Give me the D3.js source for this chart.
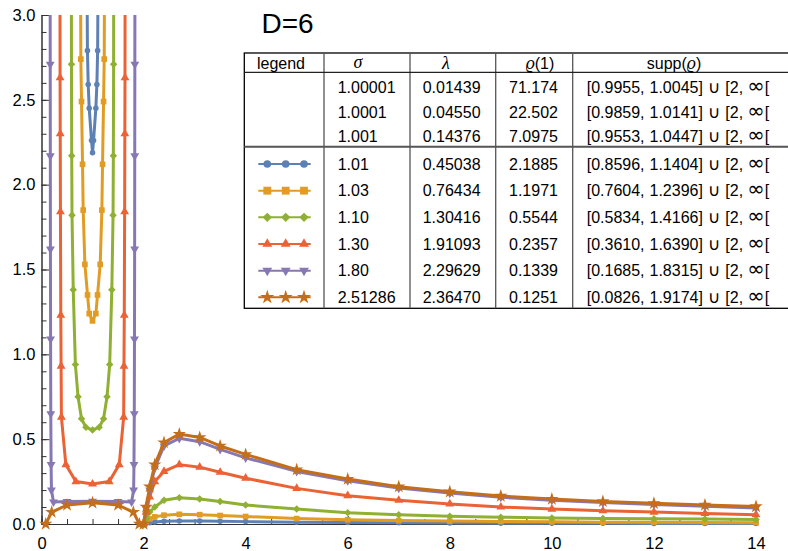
<!DOCTYPE html>
<html>
<head>
<meta charset="utf-8">
<script src="https://cdn.jsdelivr.net/npm/d3@7"></script>
<style>
	body { margin: 0; background: #fff; }
	svg { display: block; font-family: "Liberation Sans", Arial, Helvetica, sans-serif; }
	.axis text { font-size: 16.5px; fill: #000; font-family: "Liberation Sans", Arial, sans-serif; }
	.axis path, .axis line { stroke: #333; }
	.cell { font-size: 16px; fill: #000; }
	.greek { font-family: "Liberation Serif", "Times New Roman", serif; font-style: italic; }
	.math { font-family: "DejaVu Sans", sans-serif; }
</style>
</head>
<body>
<svg id="chart" width="788" height="551"></svg>
<script>
// values

// right branch, x >= 2, same sample points for every sigma
var rightX = [2, 2.05, 2.12, 2.22, 2.4, 2.7, 3.1, 3.5, 4, 5, 6, 7, 8, 9, 10, 11, 12, 13, 14]
var blueRight = [0, 0.004, 0.008, 0.012, 0.016, 0.018, 0.017, 0.016, 0.014, 0.011, 0.009, 0.007, 0.006, 0.005, 0.0045, 0.004, 0.0035, 0.003, 0.003]
var orangeRight = [0, 0.015, 0.03, 0.042, 0.052, 0.057, 0.055, 0.05, 0.044, 0.032, 0.025, 0.02, 0.017, 0.015, 0.013, 0.011, 0.01, 0.009, 0.008]
var greenRight = [0, 0.03, 0.07, 0.1, 0.14, 0.155, 0.147, 0.132, 0.112, 0.088, 0.067, 0.054, 0.045, 0.04, 0.036, 0.033, 0.031, 0.029, 0.027]
var redRight = [0, 0.07, 0.16, 0.25, 0.31, 0.35, 0.335, 0.305, 0.27, 0.21, 0.167, 0.14, 0.118, 0.1, 0.088, 0.078, 0.07, 0.062, 0.055]
var purpleRight = [0, 0.09, 0.2, 0.33, 0.46, 0.505, 0.485, 0.44, 0.39, 0.31, 0.255, 0.212, 0.182, 0.158, 0.14, 0.126, 0.115, 0.105, 0.095]
var starRight = [0, 0.1, 0.22, 0.35, 0.48, 0.53, 0.51, 0.46, 0.41, 0.32, 0.265, 0.22, 0.19, 0.165, 0.147, 0.133, 0.122, 0.112, 0.103]

// left branch, inside the inner support interval
var blueLeftX = [0.885, 0.9, 0.915, 0.935, 0.98, 1.0, 1.02, 1.065, 1.085, 1.1, 1.115]
var blueLeftY = [3.6, 2.79, 2.59, 2.45, 2.26, 2.1885, 2.26, 2.45, 2.59, 2.79, 3.6]
var orangeLeftX = [0.762, 0.771, 0.784, 0.804, 0.817, 0.85, 0.902, 0.935, 1.0, 1.065, 1.098, 1.15, 1.183, 1.196, 1.216, 1.229, 1.238]
var orangeLeftY = [3.5, 2.74, 2.49, 2.12, 1.85, 1.53, 1.35, 1.24, 1.1971, 1.24, 1.35, 1.53, 1.85, 2.12, 2.49, 2.74, 3.5]
var greenLeftX = [0.5845, 0.587, 0.592, 0.598, 0.622, 0.664, 0.716, 0.784, 0.87, 1.0, 1.13, 1.216, 1.284, 1.336, 1.378, 1.402, 1.408, 1.413, 1.4155]
var greenLeftY = [3.4, 2.71, 2.17, 1.82, 1.38, 0.94, 0.75, 0.62, 0.57, 0.5544, 0.57, 0.62, 0.75, 0.94, 1.38, 1.82, 2.17, 2.71, 3.4]
var redLeftX = [0.3615, 0.364, 0.367, 0.371, 0.378, 0.384, 0.39, 0.477, 0.673, 1.0, 1.327, 1.523, 1.61, 1.616, 1.622, 1.629, 1.633, 1.636, 1.6385]
var redLeftY = [3.4, 2.63, 2.3, 1.84, 1.23, 0.93, 0.63, 0.35, 0.25, 0.2357, 0.25, 0.35, 0.63, 0.93, 1.23, 1.84, 2.3, 2.63, 3.4]
var purpleLeftX = [0.169, 0.171, 0.173, 0.175, 0.178, 0.182, 0.188, 0.195, 0.235, 0.5, 1.0, 1.5, 1.765, 1.805, 1.812, 1.818, 1.822, 1.825, 1.827, 1.829, 1.831]
var purpleLeftY = [3.4, 2.71, 2.17, 1.62, 1.09, 0.65, 0.35, 0.2, 0.13, 0.132, 0.1339, 0.132, 0.13, 0.2, 0.35, 0.65, 1.09, 1.62, 2.17, 2.71, 3.4]
var starLeftX = [0.0826, 0.2, 0.5, 1.0, 1.5, 1.8, 1.9174]
var starLeftY = [0, 0.07, 0.112, 0.1251, 0.112, 0.07, 0]

// table
var sigmaLabels = ["1.00001", "1.0001", "1.001", "1.01", "1.03", "1.10", "1.30", "1.80", "2.51286"]
var lambdaLabels = ["0.01439", "0.04550", "0.14376", "0.45038", "0.76434", "1.30416", "1.91093", "2.29629", "2.36470"]
var rhoOneLabels = ["71.174", "22.502", "7.0975", "2.1885", "1.1971", "0.5544", "0.2357", "0.1339", "0.1251"]
var suppLower = ["0.9955", "0.9859", "0.9553", "0.8596", "0.7604", "0.5834", "0.3610", "0.1685", "0.0826"]
var suppUpper = ["1.0045", "1.0141", "1.0447", "1.1404", "1.2396", "1.4166", "1.6390", "1.8315", "1.9174"]

var xMajor = [0, 2, 4, 6, 8, 10, 12, 14]
var yMajor = [0, 0.5, 1, 1.5, 2, 2.5, 3]

var fig = {}

fig.svg = d3.select("#chart")
fig.x = d3.scaleLinear().domain([0, 14]).range([41.5, 756])
fig.y = d3.scaleLinear().domain([0, 3]).range([524, 15])

fig.series = [
	{ color: "#5E81B5", shape: "circle", left: d3.zip(blueLeftX, blueLeftY), right: d3.zip(rightX, blueRight) },
	{ color: "#E19C24", shape: "square", left: d3.zip(orangeLeftX, orangeLeftY), right: d3.zip(rightX, orangeRight) },
	{ color: "#8FB032", shape: "diamond", left: d3.zip(greenLeftX, greenLeftY), right: d3.zip(rightX, greenRight) },
	{ color: "#EB6235", shape: "up", left: d3.zip(redLeftX, redLeftY), right: d3.zip(rightX, redRight) },
	{ color: "#8778B3", shape: "down", left: d3.zip(purpleLeftX, purpleLeftY), right: d3.zip(rightX, purpleRight) },
	{ color: "#C56E1A", shape: "star", left: d3.zip(starLeftX, starLeftY), right: d3.zip(rightX, starRight) }
]

// marker areas: [in the plot, in the legend]
fig.marker = function(shape, big) {
	var k = big ? 1 : 0
	if (shape == "circle") return { d: d3.symbol(d3.symbolCircle, [24, 46][k])(), rot: 0 }
	if (shape == "square") return { d: d3.symbol(d3.symbolSquare, [32, 62][k])(), rot: 0 }
	if (shape == "diamond") return { d: d3.symbol(d3.symbolSquare, [28, 44][k])(), rot: 45 }
	if (shape == "up") return { d: d3.symbol(d3.symbolTriangle, [34, 42][k])(), rot: 0 }
	if (shape == "down") return { d: d3.symbol(d3.symbolTriangle, [34, 42][k])(), rot: 180 }
	return { d: d3.symbol(d3.symbolStar, [55, 62][k])(), rot: 0 }
}

fig.drawAxes = function() {
	var minorY = d3.range(0, 31).map(function(i){ return i/10 })
	var minorX = d3.range(0, 29).map(function(i){ return i/2 })

	var yAxis = fig.svg.append("g")
		.attr("class", "axis")
		.attr("transform", "translate(" + fig.x(0) + ",0)")
	yAxis.append("g")
		.call(d3.axisLeft(fig.y).tickValues(minorY).tickSize(-5).tickSizeOuter(0).tickFormat(""))
	yAxis.append("g")
		.call(d3.axisLeft(fig.y).tickValues(yMajor).tickSize(-8).tickSizeOuter(0).tickPadding(6).tickFormat(d3.format(".1f")))

	var xAxis = fig.svg.append("g")
		.attr("class", "axis")
		.attr("transform", "translate(0," + fig.y(0) + ")")
	xAxis.append("g")
		.call(d3.axisBottom(fig.x).tickValues(minorX).tickSize(-5).tickSizeOuter(0).tickFormat(""))
	xAxis.append("g")
		.call(d3.axisBottom(fig.x).tickValues(xMajor).tickSize(-8).tickSizeOuter(0).tickPadding(13).tickFormat(d3.format("d")))

	fig.svg.selectAll(".axis .domain").attr("stroke", "#333")
	fig.svg.selectAll(".axis line").attr("stroke", "#222")
}

fig.drawSeries = function() {
	fig.svg.append("clipPath")
		.attr("id", "plot-clip")
		.append("rect")
		.attr("x", 0)
		.attr("y", fig.y(3))
		.attr("width", fig.x.range()[1] + 40)
		.attr("height", 551 - fig.y(3))

	var line = d3.line()
		.x(function(d){ return fig.x(d[0]) })
		.y(function(d){ return fig.y(d[1]) })

	var plot = fig.svg.append("g").attr("clip-path", "url(#plot-clip)")

	var groups = plot.selectAll("g.series")
		.data(fig.series)
		.enter()
		.append("g")
		.attr("class", "series")

	groups.selectAll("path.branch")
		.data(function(d){ return [d.left, d.right] })
		.enter()
		.append("path")
		.attr("class", "branch")
		.attr("fill", "none")
		.attr("stroke", function(){ return d3.select(this.parentNode).datum().color })
		.attr("stroke-width", 3)
		.attr("stroke-linejoin", "round")
		.attr("d", line)

	groups.each(function(s){
		var m = fig.marker(s.shape, false)
		d3.select(this).selectAll("path.mark")
			.data(s.left.concat(s.right))
			.enter()
			.append("path")
			.attr("class", "mark")
			.attr("d", m.d)
			.attr("fill", s.color)
			.attr("transform", function(d){
				return "translate(" + fig.x(d[0]) + "," + fig.y(d[1]) + ") rotate(" + m.rot + ")"
			})
	})
}

fig.drawTable = function() {
	var t = fig.svg.append("g").attr("class", "table")
	var left = 244.3, right = 800, top = 53, bottom = 308.3
	var cols = [324, 410, 495.7, 572.7]

	// row centres: three rows without a legend, six with one
	var rowY = function(i) {
		return i < 3 ? 87.5 + i*24.4 : 164 + (i - 3)*26.66
	}

	t.append("rect")
		.attr("x", left).attr("y", top)
		.attr("width", right - left).attr("height", bottom - top)
		.attr("fill", "#fff").attr("stroke", "#000").attr("stroke-width", 1.3)

	t.selectAll("line.col")
		.data(cols)
		.enter()
		.append("line")
		.attr("class", "col")
		.attr("x1", function(d){ return d }).attr("x2", function(d){ return d })
		.attr("y1", top).attr("y2", bottom)
		.attr("stroke", "#555").attr("stroke-width", 1.3)

	t.append("line")
		.attr("x1", left).attr("x2", right).attr("y1", 72.3).attr("y2", 72.3)
		.attr("stroke", "#222").attr("stroke-width", 1.3)
	t.append("line")
		.attr("x1", left).attr("x2", right).attr("y1", 146.8).attr("y2", 146.8)
		.attr("stroke", "#555").attr("stroke-width", 2)

	// header
	var hy = 63
	t.append("text").attr("class", "cell").attr("x", 281).attr("y", hy).attr("dy", "0.36em")
		.attr("text-anchor", "middle").text("legend")
	t.append("text").attr("class", "cell greek").attr("x", 358).attr("y", hy).attr("dy", "0.3em")
		.attr("text-anchor", "middle").style("font-size", "18px").text("\u03c3")
	t.append("text").attr("class", "cell greek").attr("x", 446).attr("y", hy).attr("dy", "0.36em")
		.attr("text-anchor", "middle").style("font-size", "18px").text("\u03bb")
	var rh = t.append("text").attr("class", "cell").attr("x", 540).attr("y", hy).attr("dy", "0.36em")
		.attr("text-anchor", "middle")
	rh.append("tspan").attr("class", "greek").style("font-size", "18px").text("\u03f1")
	rh.append("tspan").text("(1)")
	var sh = t.append("text").attr("class", "cell").attr("x", 674).attr("y", hy).attr("dy", "0.36em")
		.attr("text-anchor", "middle")
	sh.append("tspan").text("supp(")
	sh.append("tspan").attr("class", "greek").style("font-size", "18px").text("\u03f1")
	sh.append("tspan").text(")")

	var columns = [
		{ x: 337.7, labels: sigmaLabels },
		{ x: 422.7, labels: lambdaLabels },
		{ x: 509, labels: rhoOneLabels }
	]
	columns.forEach(function(c){
		t.selectAll(null)
			.data(c.labels)
			.enter()
			.append("text")
			.attr("class", "cell")
			.attr("x", c.x)
			.attr("y", function(d, i){ return rowY(i) })
			.attr("dy", "0.36em")
			.text(function(d){ return d })
	})

	// supp column: [lo, hi] ∪ [2, ∞[
	var supp = t.selectAll("text.supp")
		.data(d3.zip(suppLower, suppUpper))
		.enter()
		.append("text")
		.attr("class", "cell supp")
		.attr("x", 586.7)
		.attr("y", function(d, i){ return rowY(i) })
		.attr("dy", "0.36em")
	supp.append("tspan").text(function(d){ return "[" + d[0] + "," })
	supp.append("tspan").attr("dx", 5).text(function(d){ return d[1] + "]" })
	supp.append("tspan").attr("class", "math").attr("dx", 5).style("font-size", "17px").text("\u222a")
	supp.append("tspan").attr("dx", 5).text("[2,")
	supp.append("tspan").attr("class", "math").attr("dx", 4).style("font-size", "21px").text("\u221e")
	supp.append("tspan").text("[")

	// legend glyphs
	var glyphs = t.selectAll("g.glyph")
		.data(fig.series)
		.enter()
		.append("g")
		.attr("class", "glyph")
		.attr("transform", function(d, i){ return "translate(0," + rowY(i + 3) + ")" })
	glyphs.append("line")
		.attr("x1", 258.3).attr("x2", 310.7)
		.attr("stroke", function(d){ return d.color })
		.attr("stroke-width", 2)
	glyphs.each(function(s){
		var m = fig.marker(s.shape, true)
		d3.select(this).selectAll("path")
			.data([267.3, 285.7, 304])
			.enter()
			.append("path")
			.attr("d", m.d)
			.attr("fill", s.color)
			.attr("transform", function(d){ return "translate(" + d + ",0) rotate(" + m.rot + ")" })
	})
}

fig.drawTitle = function() {
	fig.svg.append("text")
		.attr("x", 261.5)
		.attr("y", 32.7)
		.style("font-size", "28px")
		.attr("fill", "#000")
		.text("D=6")
}

fig.drawAxes()
fig.drawSeries()
fig.drawTable()
fig.drawTitle()
</script>
</body>
</html>
